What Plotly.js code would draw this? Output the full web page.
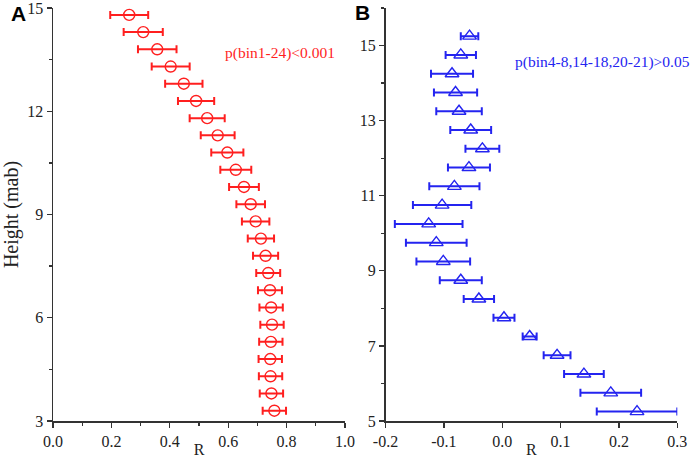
<!DOCTYPE html>
<html>
<head>
<meta charset="utf-8">
<script src="https://cdn.plot.ly/plotly-3.0.1.min.js"></script>
<style>
  html, body { margin: 0; padding: 0; background: #fff; }
  #chart { width: 699px; height: 458px; }
</style>
</head>
<body>
<div id="chart"></div>
<script>
// panel A: R by height, bins 1-24
var heightsA = [14.8, 14.3, 13.8, 13.3, 12.8, 12.3, 11.8, 11.3, 10.8, 10.3, 9.8, 9.3,
                8.8, 8.3, 7.8, 7.3, 6.8, 6.3, 5.8, 5.3, 4.8, 4.3, 3.8, 3.3];
var rA = [0.261, 0.309, 0.357, 0.403, 0.448, 0.490, 0.528, 0.564, 0.597, 0.626, 0.654, 0.677,
          0.694, 0.712, 0.728, 0.737, 0.743, 0.747, 0.750, 0.746, 0.744, 0.745, 0.748, 0.758];
var errA = [0.065, 0.067, 0.066, 0.065, 0.064, 0.062, 0.060, 0.058, 0.055, 0.053, 0.051, 0.049,
            0.047, 0.045, 0.043, 0.041, 0.041, 0.040, 0.040, 0.040, 0.040, 0.040, 0.040, 0.040];

// panel B: R by height, bins 1-21
var heightsB = [15.25, 14.75, 14.25, 13.75, 13.25, 12.75, 12.25, 11.75, 11.25, 10.75, 10.25,
                9.75, 9.25, 8.75, 8.25, 7.75, 7.25, 6.75, 6.25, 5.75, 5.25];
var rB = [-0.056, -0.071, -0.086, -0.080, -0.074, -0.054, -0.034, -0.057, -0.082, -0.103, -0.126,
          -0.113, -0.101, -0.071, -0.040, 0.003, 0.047, 0.094, 0.140, 0.186, 0.231];
var errB = [0.015, 0.026, 0.036, 0.037, 0.039, 0.035, 0.029, 0.036, 0.043, 0.050, 0.058,
            0.052, 0.046, 0.036, 0.026, 0.018, 0.012, 0.023, 0.034, 0.052, 0.069];

var xTicksA = [0, 0.2, 0.4, 0.6, 0.8, 1.0];
var xTickTextA = ["0.0", "0.2", "0.4", "0.6", "0.8", "1.0"];
var xTicksB = [-0.2, -0.1, 0, 0.1, 0.2, 0.3];
var xTickTextB = ["-0.2", "-0.1", "0.0", "0.1", "0.2", "0.3"];

var pLabelA = "p(bin1-24)<0.001";
var pLabelB = "p(bin4-8,14-18,20-21)>0.05";

var red = "#ff1f1f";
var blue = "#2424f0";
var serif = "Liberation Serif";
var axisColor = "#333";

var traceA =
{
    x: rA,
    y: heightsA,
    type: "scatter",
    mode: "markers",
    xaxis: "x",
    yaxis: "y",
    marker: { symbol: "circle-open", size: 11, color: red, line: { width: 1.4, color: red } },
    error_x: { type: "data", array: errA, visible: true, color: red, thickness: 2, width: 4 },
    showlegend: false
};

var traceB =
{
    x: rB,
    y: heightsB,
    type: "scatter",
    mode: "markers",
    xaxis: "x2",
    yaxis: "y2",
    marker: { symbol: "triangle-up-open", size: 12, color: blue, line: { width: 1.4, color: blue } },
    error_x: { type: "data", array: errB, visible: true, color: blue, thickness: 2, width: 4 },
    showlegend: false
};

function axisBase()
{
    return {
        showgrid: false,
        zeroline: false,
        showline: true,
        linecolor: axisColor,
        linewidth: 1.5,
        ticks: "outside",
        ticklen: 5,
        tickwidth: 1.3,
        tickcolor: axisColor,
        tickfont: { family: serif, size: 16, color: "#222" },
        ticklabeloverflow: "allow",
        fixedrange: true
    };
}

var xA = Object.assign(axisBase(), {
    domain: [53 / 699, 345 / 699],
    range: [0, 1],
    tickvals: xTicksA,
    ticktext: xTickTextA,
    minor: { tickvals: [0.1, 0.3, 0.5, 0.7, 0.9], ticks: "outside", ticklen: 3, tickcolor: axisColor },
    title: { text: "R", font: { family: serif, size: 16, color: "#222" }, standoff: 0 },
    anchor: "y"
});

var yA = Object.assign(axisBase(), {
    domain: [0, 1],
    range: [3, 15],
    tick0: 3,
    dtick: 3,
    minor: { dtick: 1.5, ticks: "outside", ticklen: 3, tickcolor: axisColor },
    title: { text: "Height (mab)", font: { family: serif, size: 20, color: "#222" }, standoff: 4 },
    anchor: "x"
});

var xB = Object.assign(axisBase(), {
    domain: [385.5 / 699, 677.3 / 699],
    range: [-0.2, 0.3],
    tickvals: xTicksB,
    ticktext: xTickTextB,
    title: { text: "R", font: { family: serif, size: 16, color: "#222" }, standoff: 0 },
    anchor: "y2"
});

var yB = Object.assign(axisBase(), {
    domain: [0, 1],
    range: [5, 16],
    tick0: 5,
    dtick: 2,
    minor: { dtick: 1, ticks: "outside", ticklen: 3, tickcolor: axisColor },
    anchor: "x2"
});

var layout =
{
    width: 699,
    height: 458,
    margin: { l: 0, r: 0, t: 8, b: 37, pad: 0 },
    paper_bgcolor: "#fff",
    plot_bgcolor: "#fff",
    xaxis: xA,
    yaxis: yA,
    xaxis2: xB,
    yaxis2: yB,
    annotations: [
        { text: "<b>A</b>", xref: "paper", yref: "paper", x: 18 / 699, y: 0.9855,
          xanchor: "center", yanchor: "middle", showarrow: false,
          font: { family: "Liberation Sans", size: 21, color: "#000" } },
        { text: "<b>B</b>", xref: "paper", yref: "paper", x: 363 / 699, y: 0.988,
          xanchor: "center", yanchor: "middle", showarrow: false,
          font: { family: "Liberation Sans", size: 21, color: "#000" } },
        { text: pLabelA, xref: "paper", yref: "paper", x: 280 / 699, y: 0.8918,
          xanchor: "center", yanchor: "middle", showarrow: false,
          font: { family: serif, size: 15.5, color: red } },
        { text: pLabelB, xref: "paper", yref: "paper", x: 602 / 699, y: 0.870,
          xanchor: "center", yanchor: "middle", showarrow: false,
          font: { family: serif, size: 15.5, color: blue } }
    ]
};

var config = { staticPlot: true, displayModeBar: false };

Plotly.newPlot("chart", [traceA, traceB], layout, config);
</script>
</body>
</html>
